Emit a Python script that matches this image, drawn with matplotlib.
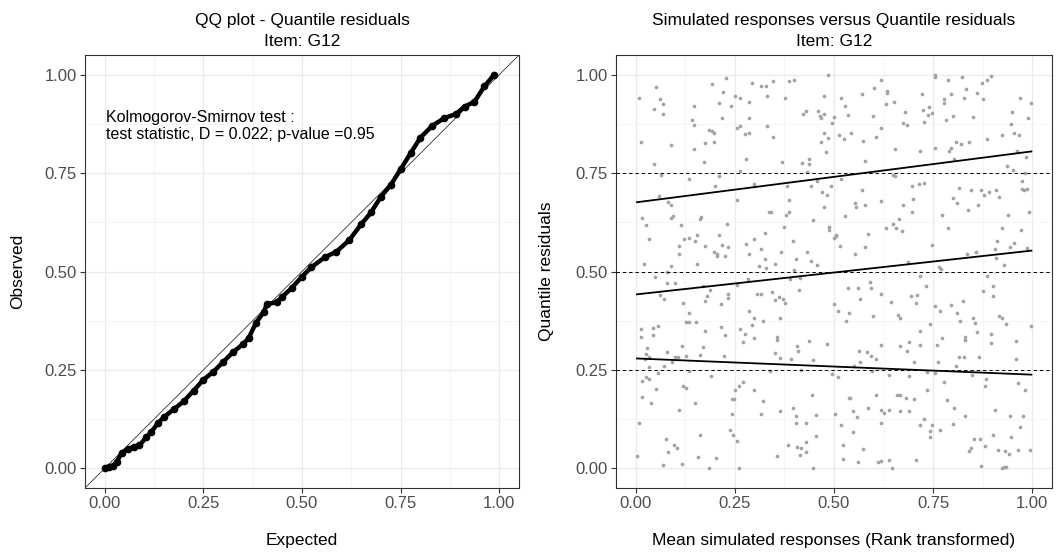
import numpy as np
import matplotlib
matplotlib.use("Agg")
import matplotlib.pyplot as plt

plt.rcParams['font.family'] = ['Liberation Sans', 'DejaVu Sans']

# ----------------- QQ plot data -----------------
qq_expected = [0.000, 0.010, 0.020, 0.030, 0.043, 0.060, 0.075, 0.088, 0.105, 0.118,
               0.134, 0.150, 0.175, 0.200, 0.225, 0.250, 0.275, 0.300, 0.325, 0.350,
               0.365, 0.383, 0.403, 0.411, 0.436, 0.449, 0.474, 0.499, 0.524, 0.559,
               0.587, 0.620, 0.650, 0.675, 0.700, 0.725, 0.750, 0.775, 0.800, 0.830,
               0.861, 0.890, 0.912, 0.937, 0.962, 0.987]
qq_observed = [0.000, 0.003, 0.005, 0.015, 0.040, 0.050, 0.055, 0.058, 0.079, 0.092,
               0.114, 0.130, 0.150, 0.170, 0.197, 0.225, 0.245, 0.270, 0.295, 0.315,
               0.331, 0.369, 0.397, 0.417, 0.422, 0.435, 0.458, 0.486, 0.511, 0.537,
               0.550, 0.580, 0.620, 0.650, 0.690, 0.720, 0.760, 0.800, 0.840, 0.870,
               0.890, 0.900, 0.919, 0.931, 0.970, 1.000]
ks_line1 = "Kolmogorov-Smirnov test :"
ks_line2 = "test statistic, D = 0.022; p-value =0.95"

# ----------------- Residual scatter data, by region of the panel -----------------
x_a = [0.007, 0.050, 0.061, 0.068, 0.045, 0.068, 0.013, 0.090, 0.045, 0.063,
       0.058, 0.082, 0.088, 0.016, 0.025, 0.090, 0.095, 0.113, 0.034, 0.108,
       0.108, 0.020, 0.078, 0.090, 0.122, 0.135, 0.149, 0.155, 0.162, 0.165,
       0.175, 0.154, 0.196, 0.206, 0.211, 0.217, 0.206, 0.225, 0.233, 0.229,
       0.191, 0.228, 0.221, 0.210, 0.218, 0.241, 0.249, 0.148, 0.141, 0.148,
       0.148, 0.184, 0.191, 0.197, 0.175, 0.197, 0.171, 0.134, 0.210, 0.201,
       0.255, 0.255]
y_a = [0.941, 0.968, 0.939, 0.925, 0.913, 0.899, 0.830, 0.821, 0.774, 0.745,
       0.693, 0.677, 0.668, 0.636, 0.618, 0.636, 0.641, 0.618, 0.582, 0.564,
       0.545, 0.518, 0.498, 0.514, 0.582, 0.584, 0.578, 0.593, 0.634, 0.638,
       0.566, 0.518, 0.550, 0.544, 0.592, 0.567, 0.539, 0.539, 0.561, 0.620,
       0.977, 0.991, 0.957, 0.928, 0.891, 0.921, 0.945, 0.921, 0.884, 0.871,
       0.810, 0.860, 0.858, 0.852, 0.827, 0.829, 0.779, 0.736, 0.742, 0.718,
       0.865, 0.681]

x_b = [0.293, 0.316, 0.328, 0.345, 0.332, 0.286, 0.286, 0.264, 0.387, 0.398,
       0.485, 0.377, 0.474, 0.429, 0.423, 0.460, 0.464, 0.468, 0.474, 0.499,
       0.495, 0.518, 0.528, 0.535, 0.571, 0.602, 0.618, 0.633, 0.633, 0.631,
       0.652, 0.598, 0.264, 0.275, 0.286, 0.332, 0.347, 0.474, 0.468, 0.485,
       0.480, 0.513, 0.525, 0.543, 0.574, 0.606, 0.618, 0.654, 0.279, 0.368,
       0.419, 0.438, 0.438, 0.431, 0.264, 0.578, 0.299, 0.382, 0.443, 0.458,
       0.492, 0.469, 0.483, 0.518, 0.387, 0.474, 0.336, 0.342, 0.387, 0.379,
       0.448, 0.529, 0.554, 0.556, 0.578, 0.570, 0.618, 0.649, 0.653, 0.663,
       0.649, 0.657, 0.630, 0.279, 0.299, 0.286, 0.316, 0.327, 0.310, 0.325,
       0.328, 0.350, 0.366, 0.375, 0.397, 0.403, 0.431, 0.443, 0.458, 0.488,
       0.488, 0.504, 0.506, 0.499, 0.514, 0.554, 0.578, 0.587, 0.400]
y_b = [0.978, 0.972, 0.972, 0.983, 0.945, 0.930, 0.891, 0.941, 0.985, 0.987,
       1.000, 0.940, 0.945, 0.909, 0.900, 0.907, 0.894, 0.891, 0.900, 0.893,
       0.876, 0.941, 0.921, 0.897, 0.950, 0.967, 0.987, 0.958, 0.954, 0.926,
       0.930, 0.896, 0.869, 0.849, 0.853, 0.869, 0.841, 0.852, 0.830, 0.839,
       0.804, 0.846, 0.836, 0.853, 0.832, 0.841, 0.865, 0.810, 0.786, 0.779,
       0.775, 0.786, 0.773, 0.754, 0.755, 0.781, 0.723, 0.718, 0.718, 0.730,
       0.717, 0.702, 0.695, 0.734, 0.682, 0.664, 0.652, 0.650, 0.650, 0.643,
       0.632, 0.642, 0.673, 0.664, 0.669, 0.706, 0.680, 0.746, 0.742, 0.634,
       0.621, 0.610, 0.610, 0.570, 0.582, 0.545, 0.558, 0.599, 0.514, 0.532,
       0.510, 0.520, 0.549, 0.614, 0.578, 0.532, 0.549, 0.527, 0.516, 0.614,
       0.606, 0.593, 0.589, 0.584, 0.566, 0.545, 0.561, 0.595, 0.504]

x_c = [0.755, 0.755, 0.788, 0.822, 0.895, 0.887, 0.873, 0.834, 0.860, 0.721,
       0.794, 0.778, 0.777, 0.829, 0.875, 0.970, 0.998, 0.725, 0.739, 0.738,
       0.748, 0.679, 0.675, 0.683, 0.728, 0.783, 0.801, 0.850, 0.949, 0.990,
       0.947, 0.955, 0.966, 0.925, 0.886, 0.807, 0.820, 0.840, 0.794, 0.789,
       0.755, 0.716, 0.802, 0.962, 0.985, 0.936, 0.951, 0.983, 0.975, 0.975,
       0.980, 0.988, 0.908, 0.917, 0.892, 0.879, 0.871, 0.845, 0.864, 0.815,
       0.800, 0.810, 0.838, 0.698, 0.715, 0.728, 0.700, 0.674, 0.696, 0.773,
       0.992, 0.938, 0.788, 0.672, 0.923, 0.972, 0.911, 0.907, 0.944, 0.954,
       0.988, 0.747, 0.836, 0.859, 0.909, 0.930, 0.686, 0.765, 0.771]
y_c = [1.000, 0.995, 0.987, 0.995, 0.996, 0.987, 0.978, 0.963, 0.954, 0.952,
       0.952, 0.939, 0.928, 0.941, 0.937, 0.940, 0.928, 0.911, 0.917, 0.897,
       0.902, 0.904, 0.876, 0.872, 0.880, 0.885, 0.896, 0.893, 0.904, 0.891,
       0.874, 0.853, 0.846, 0.847, 0.836, 0.830, 0.824, 0.830, 0.814, 0.806,
       0.813, 0.807, 0.786, 0.805, 0.790, 0.769, 0.757, 0.750, 0.730, 0.710,
       0.707, 0.710, 0.707, 0.690, 0.702, 0.695, 0.707, 0.707, 0.670, 0.712,
       0.686, 0.675, 0.656, 0.718, 0.723, 0.726, 0.685, 0.668, 0.652, 0.643,
       0.651, 0.643, 0.610, 0.604, 0.610, 0.606, 0.578, 0.558, 0.561, 0.573,
       0.560, 0.568, 0.545, 0.550, 0.534, 0.517, 0.524, 0.512, 0.507]

x_d = [0.048, 0.078, 0.100, 0.061, 0.072, 0.119, 0.134, 0.126, 0.135, 0.151,
       0.174, 0.175, 0.179, 0.188, 0.169, 0.214, 0.233, 0.233, 0.255, 0.012,
       0.012, 0.044, 0.055, 0.044, 0.029, 0.025, 0.034, 0.022, 0.032, 0.079,
       0.091, 0.100, 0.106, 0.116, 0.126, 0.169, 0.163, 0.216, 0.225, 0.223,
       0.070, 0.055, 0.134, 0.189, 0.016, 0.025, 0.034, 0.052, 0.016, 0.039,
       0.120, 0.126, 0.110, 0.149, 0.261, 0.250, 0.248, 0.243, 0.242, 0.238,
       0.244, 0.255, 0.008, 0.075, 0.080, 0.096, 0.105, 0.069, 0.116, 0.156,
       0.163, 0.184, 0.202, 0.261, 0.003]
y_d = [0.485, 0.472, 0.472, 0.440, 0.431, 0.420, 0.394, 0.372, 0.372, 0.372,
       0.350, 0.425, 0.439, 0.453, 0.463, 0.417, 0.443, 0.433, 0.466, 0.355,
       0.333, 0.357, 0.361, 0.338, 0.305, 0.291, 0.282, 0.278, 0.258, 0.295,
       0.270, 0.282, 0.284, 0.311, 0.285, 0.309, 0.288, 0.358, 0.338, 0.285,
       0.261, 0.241, 0.248, 0.235, 0.223, 0.233, 0.228, 0.201, 0.180, 0.167,
       0.208, 0.204, 0.149, 0.167, 0.209, 0.199, 0.177, 0.175, 0.139, 0.098,
       0.084, 0.070, 0.115, 0.075, 0.041, 0.058, 0.052, 0.008, 0.012, 0.030,
       0.084, 0.000, 0.025, 0.002, 0.032]

x_e = [0.283, 0.390, 0.415, 0.305, 0.316, 0.344, 0.352, 0.361, 0.371, 0.377,
       0.412, 0.286, 0.299, 0.321, 0.364, 0.293, 0.276, 0.270, 0.299, 0.355,
       0.357, 0.264, 0.406, 0.408, 0.438, 0.483, 0.350, 0.364, 0.392, 0.446,
       0.501, 0.510, 0.535, 0.561, 0.566, 0.590, 0.594, 0.618, 0.643, 0.539,
       0.530, 0.598, 0.661, 0.666, 0.618, 0.666, 0.564, 0.566, 0.583, 0.593,
       0.605, 0.550, 0.597, 0.639, 0.338, 0.418, 0.494, 0.510, 0.271, 0.299,
       0.322, 0.316, 0.363, 0.397, 0.403, 0.404, 0.430, 0.455, 0.455, 0.444,
       0.503, 0.538, 0.541, 0.547, 0.558, 0.547, 0.518, 0.587, 0.606, 0.618,
       0.627, 0.640, 0.618, 0.658, 0.666, 0.666, 0.384, 0.407, 0.418, 0.414,
       0.430, 0.430, 0.357, 0.448, 0.523, 0.522, 0.561, 0.574, 0.610, 0.619,
       0.638, 0.646]
y_e = [0.481, 0.481, 0.483, 0.444, 0.444, 0.449, 0.427, 0.435, 0.430, 0.420,
       0.453, 0.400, 0.381, 0.375, 0.383, 0.365, 0.341, 0.321, 0.332, 0.334,
       0.326, 0.355, 0.311, 0.298, 0.324, 0.316, 0.293, 0.281, 0.278, 0.274,
       0.418, 0.399, 0.457, 0.459, 0.431, 0.474, 0.457, 0.442, 0.423, 0.394,
       0.375, 0.387, 0.389, 0.383, 0.313, 0.311, 0.298, 0.270, 0.296, 0.285,
       0.278, 0.261, 0.246, 0.237, 0.248, 0.249, 0.239, 0.232, 0.220, 0.198,
       0.170, 0.139, 0.145, 0.154, 0.134, 0.115, 0.115, 0.083, 0.135, 0.187,
       0.137, 0.178, 0.178, 0.145, 0.130, 0.093, 0.109, 0.153, 0.185, 0.148,
       0.140, 0.148, 0.115, 0.185, 0.185, 0.145, 0.059, 0.054, 0.051, 0.035,
       0.042, 0.068, 0.032, 0.002, 0.058, 0.024, 0.017, 0.048, 0.017, 0.019,
       0.022, 0.000]

x_f = [0.716, 0.887, 0.733, 0.694, 0.709, 0.706, 0.756, 0.767, 0.794, 0.811,
       0.825, 0.818, 0.851, 0.855, 0.875, 0.900, 0.900, 0.917, 0.923, 0.934,
       0.997, 0.741, 0.716, 0.690, 0.683, 0.716, 0.760, 0.773, 0.830, 0.830,
       0.860, 0.897, 0.895, 0.958, 0.958, 0.762, 0.815, 0.827, 0.866, 0.809,
       0.703, 0.690, 0.735, 0.756, 0.848, 0.884, 0.882, 0.778, 0.963, 0.982,
       0.735, 0.681, 0.703, 0.786, 0.804, 0.830, 0.905, 0.943, 0.977, 0.969,
       0.690, 0.716, 0.728, 0.747, 0.742, 0.742, 0.768, 0.800, 0.853, 0.868,
       0.882, 0.900, 0.947, 0.913, 0.932, 0.942, 0.965, 0.995, 0.845, 0.840,
       0.707, 0.871, 0.924, 0.929, 0.935]
y_f = [0.489, 0.489, 0.464, 0.438, 0.440, 0.420, 0.413, 0.400, 0.416, 0.394,
       0.426, 0.375, 0.383, 0.370, 0.451, 0.463, 0.439, 0.388, 0.383, 0.367,
       0.361, 0.367, 0.350, 0.320, 0.298, 0.314, 0.313, 0.332, 0.334, 0.327,
       0.346, 0.341, 0.319, 0.324, 0.278, 0.271, 0.283, 0.283, 0.283, 0.261,
       0.270, 0.235, 0.245, 0.243, 0.237, 0.228, 0.210, 0.219, 0.217, 0.198,
       0.198, 0.179, 0.176, 0.174, 0.152, 0.134, 0.148, 0.134, 0.134, 0.106,
       0.145, 0.110, 0.126, 0.109, 0.095, 0.080, 0.098, 0.113, 0.074, 0.075,
       0.056, 0.084, 0.080, 0.046, 0.043, 0.036, 0.047, 0.047, 0.052, 0.043,
       0.022, 0.005, 0.002, 0.003, 0.003]

# quantile regression lines (value at left and right end) and reference quantiles
quantiles = [0.25, 0.50, 0.75]
qreg_start = [0.279, 0.442, 0.676]
qreg_end = [0.238, 0.553, 0.805]

sim_x = np.array(x_a + x_b + x_c + x_d + x_e + x_f)
sim_y = np.array(y_a + y_b + y_c + y_d + y_e + y_f)

ticks = [0, 0.25, 0.5, 0.75, 1.0]
tick_labels = ["0.00", "0.25", "0.50", "0.75", "1.00"]
minor_ticks = [0.125, 0.375, 0.625, 0.875]

# ----------------- Figure -----------------
W, H = 1057, 554
fig = plt.figure(figsize=(W / 100, H / 100), dpi=100)
ax1 = fig.add_axes([85 / W, 66 / H, 434 / W, 433 / H])
ax2 = fig.add_axes([616 / W, 66 / H, 436 / W, 433 / H])


def style(ax):
    ax.set_xlim(-0.05, 1.05)
    ax.set_ylim(-0.05, 1.05)
    ax.set_xticks(ticks)
    ax.set_xticklabels(tick_labels)
    ax.set_yticks(ticks)
    ax.set_yticklabels(tick_labels)
    ax.set_xticks(minor_ticks, minor=True)
    ax.set_yticks(minor_ticks, minor=True)
    ax.grid(which='major', color='#EBEBEB', lw=0.9)
    ax.grid(which='minor', color='#F2F2F2', lw=0.5)
    ax.set_axisbelow(True)
    for s in ax.spines.values():
        s.set_color('#333333')
        s.set_linewidth(0.8)
    ax.tick_params(which='major', length=3.5, width=0.8, color='#333333',
                   labelsize=12, labelcolor='#4D4D4D', pad=2.5)
    ax.tick_params(which='minor', length=0)


style(ax1)
style(ax2)

# left: QQ plot
ax1.axline((0, 0), (1, 1), color='#333333', lw=0.6, zorder=2)
ax1.plot(qq_expected, qq_observed, color='black', lw=3.2, marker='o', ms=4.5,
         solid_joinstyle='round', zorder=3)
ax1.text(0.003, 0.892, ks_line1, ha='left', va='center', fontsize=11.5)
ax1.text(0.003, 0.847, ks_line2, ha='left', va='center', fontsize=11.5)

# right: residuals vs rank transformed predictions
ax2.scatter(sim_x, sim_y, s=7, color='#A3A3A3', linewidths=0, zorder=2)
for q in quantiles:
    ax2.axhline(q, color='black', lw=0.7, ls=(0, (3.5, 3)), zorder=3)
x0, x1 = sim_x.min(), sim_x.max()
for a, b in zip(qreg_start, qreg_end):
    ax2.plot([x0, x1], [a, b], color='black', lw=1.3, zorder=4)

# titles and axis labels
fs = 12.5
fig.text(302 / W, 1 - 21 / H, "QQ plot - Quantile residuals", ha='center', va='center', fontsize=fs)
fig.text(302 / W, 1 - 42 / H, "Item: G12", ha='center', va='center', fontsize=fs)
fig.text(834 / W, 1 - 21 / H, "Simulated responses versus Quantile residuals",
         ha='center', va='center', fontsize=fs)
fig.text(834 / W, 1 - 42 / H, "Item: G12", ha='center', va='center', fontsize=fs)
fig.text(302 / W, 1 - 541 / H, "Expected", ha='center', va='center', fontsize=fs)
fig.text(834 / W, 1 - 541 / H, "Mean simulated responses (Rank transformed)",
         ha='center', va='center', fontsize=fs)
fig.text(18 / W, 1 - 271 / H, "Observed", ha='center', va='center', rotation=90, fontsize=fs)
fig.text(547 / W, 1 - 271 / H, "Quantile residuals", ha='center', va='center',
         rotation=90, fontsize=fs)

fig.savefig("out.png", dpi=100)
